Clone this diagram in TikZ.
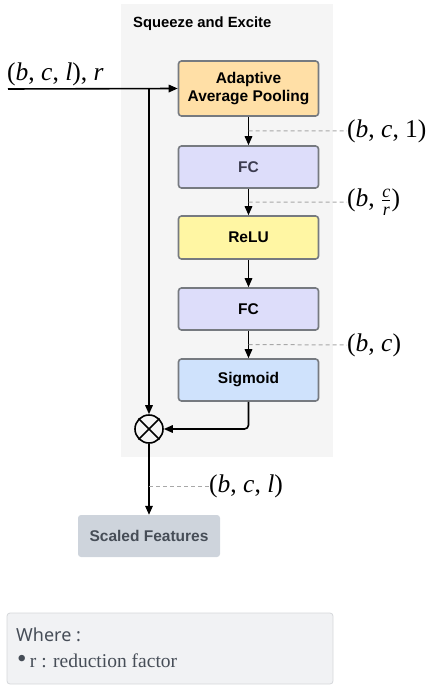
\documentclass[tikz,border=0pt]{standalone}
\usepackage{amsmath}
\usepackage{fontspec}
\setmainfont{Liberation Serif}
\newfontfamily\sansf{Liberation Sans}
\newfontfamily\notos{Noto Sans}
\usetikzlibrary{arrows.meta,calc}
\definecolor{panel}{HTML}{F5F5F5}
\definecolor{aapc}{HTML}{FFDFA6}
\definecolor{fcc}{HTML}{DDDDFA}
\definecolor{reluc}{HTML}{FFF6A3}
\definecolor{sigc}{HTML}{CFE2FC}
\definecolor{bord}{HTML}{767A80}
\definecolor{sfc}{HTML}{CED4DC}
\definecolor{sft}{HTML}{464D57}
\definecolor{legf}{HTML}{F1F2F4}
\definecolor{legb}{HTML}{D5D7DA}
\definecolor{dashc}{HTML}{A8A8A8}
\definecolor{fct}{HTML}{3C3C50}
\newcommand{\iv}[1]{\textit{#1}}
\begin{document}
\begin{tikzpicture}[x=1pt,y=-1pt,
  blk/.style={draw=bord, line width=1.6pt, rounded corners=3pt, minimum width=140pt, inner sep=0pt, align=center, font=\sansf\bfseries\fontsize{15.5}{18}\selectfont},
  arr/.style={line width=1.6pt, -{Triangle[length=9pt,width=7.5pt]}},
  dsh/.style={draw=dashc, line width=1pt, dash pattern=on 4pt off 3pt},
  lab/.style={anchor=west, inner sep=0pt, font=\fontsize{25.5}{28}\selectfont}
]
\useasboundingbox (0,0) rectangle (431,687);
\fill[panel] (121,4) rectangle (333,457);
\node[anchor=west, inner sep=0pt, font=\sansf\bfseries\fontsize{14.8}{17}\selectfont] (title) at (133,24) {Squeeze and Excite};

\node[blk, fill=aapc, minimum height=55pt] (aap) at (248.5,88.5) {Adaptive\\Average Pooling};
\node[blk, fill=fcc, minimum height=42pt, text=fct] (fc1) at (248.5,167) {FC};
\node[blk, fill=reluc, minimum height=43pt] (relu) at (248.5,237.5) {ReLU};
\node[blk, fill=fcc, minimum height=42pt] (fc2) at (248.5,309) {FC};
\node[blk, fill=sigc, minimum height=42pt] (sig) at (248.5,380) {Sigmoid};
\node[draw, line width=1.6pt, circle, minimum size=28pt, inner sep=0pt] (mul) at (149,429) {};
\draw[line width=1.6pt] (mul.north west) -- (mul.south east) (mul.north east) -- (mul.south west);
\node[fill=sfc, rounded corners=3pt, minimum width=142pt, minimum height=42pt, inner sep=0pt, text=sft, font=\sansf\bfseries\fontsize{15.5}{18}\selectfont] (sf) at (149,536) {Scaled Features};

\coordinate (in) at (8,89);
\coordinate (j) at (149,89);
\node[anchor=base west, inner sep=0pt, font=\fontsize{25.5}{28}\selectfont] (inlab) at (7,81) {(\iv{b}, \iv{c}, \iv{l}), \iv{r}};
\draw[arr] (in) -- (aap.west);
\draw[arr] (j) -- (mul.north);
\draw[arr] (aap) -- (fc1);
\draw[arr] (fc1) -- (relu);
\draw[arr] (relu) -- (fc2);
\draw[arr] (fc2) -- (sig);
\draw[arr, rounded corners=4pt] (sig.south) |- (mul.east);
\draw[arr] (mul.south) -- (sf.north);

\coordinate (d1) at ($(aap.south)!0.5!(fc1.north)$);
\node[lab] (l1) at (347,131) {(\iv{b}, \iv{c}, 1)};
\draw[dsh] (d1) -- (l1.west);
\coordinate (d2) at ($(fc1.south)!0.5!(relu.north)$);
\node[lab] (l2) at (347,202) {(\iv{b}, $\frac{\iv{c}}{\iv{r}}$)};
\draw[dsh] (d2) -- (l2.west);
\coordinate (d3) at ($(fc2.south)!0.5!(sig.north)$);
\node[lab] (l3) at (347,345) {(\iv{b}, \iv{c})};
\draw[dsh] (d3) -- (l3.west);
\coordinate (d4) at (149,486);
\node[lab] (l4) at (209,486) {(\iv{b}, \iv{c}, \iv{l})};
\draw[dsh] (d4) -- (l4.west);

\node[draw=legb, fill=legf, rounded corners=3pt, line width=0.8pt, minimum width=326pt, minimum height=71pt, inner sep=0pt] (leg) at (170,648.5) {};
\node[anchor=west, inner sep=0pt, text=sft, font=\notos\fontsize{18}{20}\selectfont] (where) at (16,635) {Where :};
\node[anchor=west, inner sep=0pt, text=sft, font=\fontsize{19.5}{22}\selectfont] (rdef) at (17,661) {{\fontsize{27}{27}\selectfont\raisebox{0pt}{\textbullet}}\,r : reduction factor};
\end{tikzpicture}
\end{document}
